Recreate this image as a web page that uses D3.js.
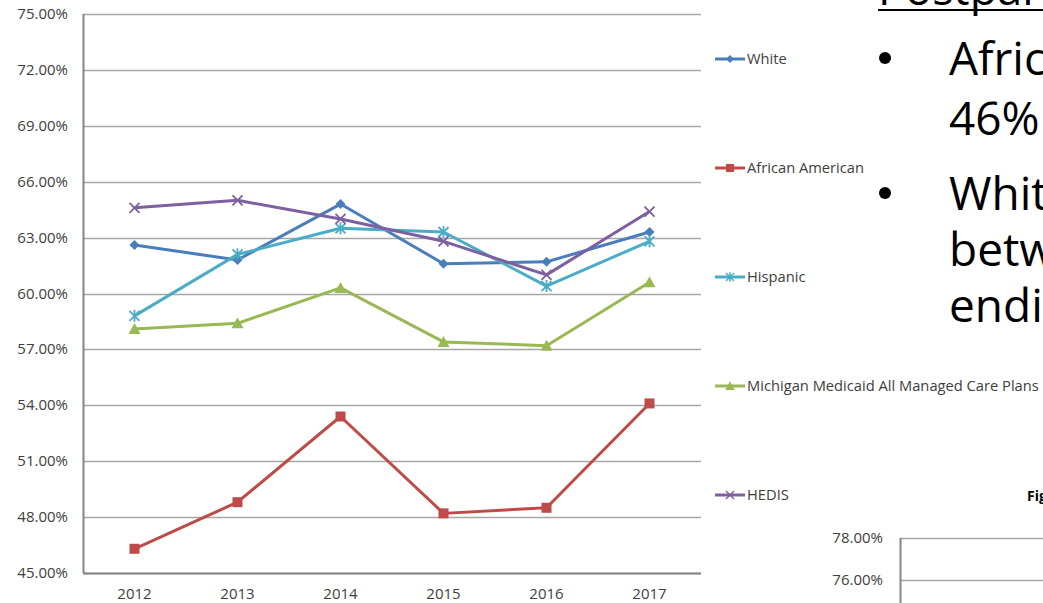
<!DOCTYPE html>
<html>
<head>
<meta charset="utf-8">
<script src="https://cdn.jsdelivr.net/npm/d3@7/dist/d3.min.js"></script>
<style>
  body { margin: 0; background: #fff; }
  svg { display: block; font-family: "Open Sans", sans-serif; }
</style>
</head>
<body>
<div class="chart"></div>
<script>
var years = ['2012', '2013', '2014', '2015', '2016', '2017'];
var yTicks = [45, 48, 51, 54, 57, 60, 63, 66, 69, 72, 75];

var white = [62.6, 61.8, 64.8, 61.6, 61.7, 63.3];
var africanAmerican = [46.3, 48.8, 53.4, 48.2, 48.5, 54.1];
var hispanic = [58.8, 62.1, 63.5, 63.3, 60.4, 62.8];
var medicaid = [58.1, 58.4, 60.3, 57.4, 57.2, 60.6];
var hedis = [64.6, 65.0, 64.0, 62.8, 61.0, 64.4];

var seriesNames = ['White', 'African American', 'Hispanic', 'Michigan Medicaid All Managed Care Plans', 'HEDIS'];
var bulletLines = [['Afric', '46%'], ['Whit', 'betw', 'endi']];
var fig2Ticks = [76, 78];

var series = [
    { name: seriesNames[0], values: white, color: '#4A7EBB', marker: 'diamond' },
    { name: seriesNames[1], values: africanAmerican, color: '#BE4B48', marker: 'square' },
    { name: seriesNames[2], values: hispanic, color: '#4BACC6', marker: 'star' },
    { name: seriesNames[3], values: medicaid, color: '#98B954', marker: 'triangle' },
    { name: seriesNames[4], values: hedis, color: '#7D60A0', marker: 'cross' }
];

var margin = { top: 14, right: 342, bottom: 30, left: 83 };
var width = 1043 - margin.left - margin.right;
var height = 603 - margin.top - margin.bottom;

var root = d3.select('.chart')
    .append('svg')
    .attr('width', 1043)
    .attr('height', 603);

var svg = root.append('g')
    .attr('transform', `translate(${margin.left}, ${margin.top})`);

var xScale = d3.scaleBand().domain(years).range([0, width]);
var yScale = d3.scaleLinear().domain([45, 75]).range([height, 0]);

// gridlines
svg.append('g')
    .selectAll('line')
    .data(yTicks)
    .enter()
    .append('line')
    .attr('x1', 0)
    .attr('x2', width)
    .attr('y1', d => Math.round(yScale(d)) + 0.5)
    .attr('y2', d => Math.round(yScale(d)) + 0.5)
    .style('stroke', '#a6a6a6')
    .style('stroke-width', 1.5);

// axis lines
svg.append('line')
    .attr('x1', 0.5).attr('x2', 0.5)
    .attr('y1', 0).attr('y2', height)
    .style('stroke', '#868686')
    .style('stroke-width', 2);

svg.append('line')
    .attr('x1', 0).attr('x2', width)
    .attr('y1', height + 0.5).attr('y2', height + 0.5)
    .style('stroke', '#868686')
    .style('stroke-width', 2);

svg.append('g')
    .selectAll('text')
    .data(yTicks)
    .enter()
    .append('text')
    .attr('x', -15)
    .attr('y', d => yScale(d) + 5)
    .attr('text-anchor', 'end')
    .style('font-size', '15px')
    .style('fill', '#404040')
    .text(d => d.toFixed(2) + '%');

svg.append('g')
    .selectAll('text')
    .data(years)
    .enter()
    .append('text')
    .attr('x', d => xScale(d) + xScale.bandwidth() / 2)
    .attr('y', height + 26)
    .attr('text-anchor', 'middle')
    .style('font-size', '15px')
    .style('fill', '#404040')
    .text(d => d);

var line = d3.line()
    .x((d, i) => xScale(years[i]) + xScale.bandwidth() / 2)
    .y(d => yScale(d));

function drawMarker(g, type, color) {
    if (type === 'diamond') {
        g.append('path').attr('d', 'M0,-5L5,0L0,5L-5,0Z').style('fill', color);
    } else if (type === 'square') {
        g.append('rect').attr('x', -5).attr('y', -5).attr('width', 10).attr('height', 10).style('fill', color);
    } else if (type === 'triangle') {
        g.append('path').attr('d', 'M0,-6L6,5L-6,5Z').style('fill', color);
    } else if (type === 'cross') {
        g.append('path').attr('d', 'M-5,-5L5,5M-5,5L5,-5')
            .style('stroke', color).style('stroke-width', 1.8).style('fill', 'none');
    } else if (type === 'star') {
        g.append('path').attr('d', 'M-5,-5L5,5M-5,5L5,-5M0,-6L0,6')
            .style('stroke', color).style('stroke-width', 1.8).style('fill', 'none');
    }
}

series.forEach(function (s) {
    svg.append('path')
        .attr('d', line(s.values))
        .style('stroke', s.color)
        .style('stroke-width', 3)
        .style('stroke-linejoin', 'round')
        .style('fill', 'none');

    svg.append('g')
        .selectAll('g')
        .data(s.values)
        .enter()
        .append('g')
        .attr('transform', (d, i) => `translate(${xScale(years[i]) + xScale.bandwidth() / 2}, ${yScale(d)})`)
        .each(function () { drawMarker(d3.select(this), s.marker, s.color); });
});

// legend
var legend = root.append('g')
    .selectAll('g')
    .data(series)
    .enter()
    .append('g')
    .attr('transform', (d, i) => `translate(715, ${59 + i * 109})`);

legend.append('line')
    .attr('x1', 0).attr('x2', 30)
    .style('stroke', d => d.color)
    .style('stroke-width', 3);

legend.append('g')
    .attr('transform', 'translate(15, 0) scale(0.8)')
    .each(function (d) { drawMarker(d3.select(this), d.marker, d.color); });

legend.append('text')
    .attr('x', 32)
    .attr('y', 5)
    .style('font-size', '14.7px')
    .style('fill', '#404040')
    .text(d => d.name);

// slide text behind the chart on the right
var slide = root.append('g');
slide.append('text')
    .attr('x', 878).attr('y', 5)
    .style('font-size', '45px')
    .style('fill', '#000')
    .text('Postpartum');
slide.append('line')
    .attr('x1', 878).attr('x2', 1043)
    .attr('y1', 10).attr('y2', 10)
    .style('stroke', '#000').style('stroke-width', 2);

var bulletTop = [75, 210];
var lineGap = [60, 56];
bulletLines.forEach(function (lines, b) {
    slide.append('circle')
        .attr('cx', 885).attr('cy', bulletTop[b] - 17)
        .attr('r', 6).style('fill', '#000');
    lines.forEach(function (t, j) {
        slide.append('text')
            .attr('x', 949)
            .attr('y', bulletTop[b] + j * lineGap[b])
            .style('font-size', '46px')
            .style('fill', '#000')
            .text(t);
    });
});

// second figure peeking in at the bottom right
var fig2 = root.append('g');
fig2.append('text')
    .attr('x', 1027).attr('y', 501)
    .style('font-size', '14px')
    .style('font-weight', 'bold')
    .style('fill', '#000')
    .text('Fig');

var y2 = d3.scaleLinear().domain([76, 78]).range([580, 538]);
fig2.selectAll('line.g2')
    .data(fig2Ticks)
    .enter()
    .append('line')
    .attr('class', 'g2')
    .attr('x1', 900).attr('x2', 1043)
    .attr('y1', d => Math.round(y2(d)) + 0.5)
    .attr('y2', d => Math.round(y2(d)) + 0.5)
    .style('stroke', '#a6a6a6')
    .style('stroke-width', 1.5);
fig2.append('line')
    .attr('x1', 900.5).attr('x2', 900.5)
    .attr('y1', 538).attr('y2', 603)
    .style('stroke', '#868686')
    .style('stroke-width', 2);
fig2.selectAll('text.t2')
    .data(fig2Ticks)
    .enter()
    .append('text')
    .attr('class', 't2')
    .attr('x', 883)
    .attr('y', d => y2(d) + 5)
    .attr('text-anchor', 'end')
    .style('font-size', '15px')
    .style('fill', '#404040')
    .text(d => d.toFixed(2) + '%');
</script>
</body>
</html>
